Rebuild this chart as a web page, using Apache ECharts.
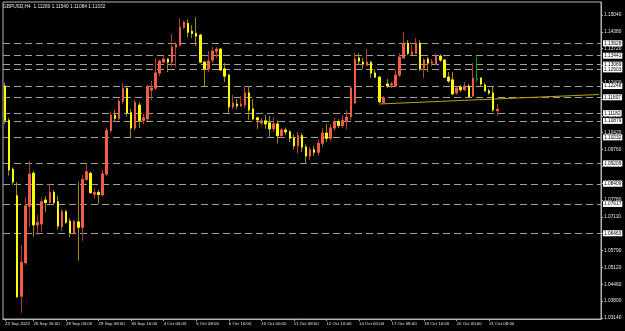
<!DOCTYPE html>
<html>
<head>
<meta charset="utf-8">
<title>GBPUSD,H4</title>
<script src="https://cdn.jsdelivr.net/npm/echarts@6/dist/echarts.min.js"></script>
<style>
  html, body { margin: 0; padding: 0; background: #000; }
  #main { width: 625px; height: 331px; }
</style>
</head>
<body>
<div id="main"></div>
<script>
// H4 bars from 23 Sep 2022 12:00
var openPrices = [
  1.1225, 1.1090, 1.0898, 1.0794, 1.0399, 1.0531, 1.0753, 1.0882, 1.0679, 1.0683,
  1.0777, 1.0768, 1.0807, 1.0770, 1.0672, 1.0731, 1.0694, 1.0647, 1.0691, 1.0670,
  1.0858, 1.0882, 1.0800, 1.0807, 1.0797, 1.0879, 1.1050, 1.1110, 1.1098, 1.1165,
  1.1215, 1.1120, 1.1060, 1.1150, 1.1090, 1.1096, 1.1209, 1.1217, 1.1276, 1.1319,
  1.1331, 1.1319, 1.1378, 1.1385, 1.1456, 1.1471, 1.1440, 1.1432, 1.1425, 1.1319,
  1.1292, 1.1327, 1.1362, 1.1370, 1.1292, 1.1268, 1.1143, 1.1154, 1.1147, 1.1151,
  1.1198, 1.1135, 1.1100, 1.1080, 1.1088, 1.1080, 1.1057, 1.1076, 1.1030, 1.1052,
  1.1045, 1.1020, 1.0990, 1.1030, 1.0985, 1.0950, 1.0975, 1.0965, 1.1000, 1.1040,
  1.1020, 1.1060, 1.1085, 1.1070, 1.1090, 1.1104, 1.1159, 1.1335, 1.1319, 1.1307,
  1.1319, 1.1276, 1.1260, 1.1159, 1.1233, 1.1229, 1.1225, 1.1268, 1.1335, 1.1393,
  1.1350, 1.1354, 1.1393, 1.1296, 1.1331, 1.1315, 1.1311, 1.1342, 1.1327, 1.1260,
  1.1249, 1.1198, 1.1221, 1.1210, 1.1225, 1.1186, 1.1253, 1.1256, 1.1229, 1.1206,
  1.1198, 1.1128
];
var highPrices = [
  1.1238, 1.1100, 1.0905, 1.0848, 1.0600, 1.0788, 1.0930, 1.0890, 1.0718, 1.0788,
  1.0793, 1.0839, 1.0816, 1.0794, 1.0741, 1.0738, 1.0705, 1.0698, 1.0849, 1.0875,
  1.0917, 1.0888, 1.0823, 1.0816, 1.0895, 1.1062, 1.1125, 1.1130, 1.1175, 1.1236,
  1.1225, 1.1135, 1.1170, 1.1160, 1.1115, 1.1229, 1.1245, 1.1335, 1.1328, 1.1342,
  1.1334, 1.1429, 1.1397, 1.1491, 1.1482, 1.1487, 1.1464, 1.1495, 1.1430, 1.1322,
  1.1362, 1.1378, 1.1378, 1.1374, 1.1315, 1.1272, 1.1190, 1.1174, 1.1186, 1.1225,
  1.1225, 1.1174, 1.1104, 1.1100, 1.1112, 1.1108, 1.1104, 1.1090, 1.1060, 1.1062,
  1.1050, 1.1035, 1.1045, 1.1040, 1.0995, 1.0985, 1.0990, 1.1015, 1.1060, 1.1075,
  1.1075, 1.1100, 1.1095, 1.1110, 1.1130, 1.1225, 1.1354, 1.1354, 1.1335, 1.1370,
  1.1322, 1.1292, 1.1262, 1.1186, 1.1253, 1.1241, 1.1288, 1.1354, 1.1436, 1.1405,
  1.1393, 1.1413, 1.1405, 1.1335, 1.1339, 1.1331, 1.1354, 1.1350, 1.1331, 1.1280,
  1.1280, 1.1221, 1.1229, 1.1241, 1.1233, 1.1315, 1.1339, 1.1260, 1.1237, 1.1214,
  1.1221, 1.1154
];
var lowPrices = [
  1.1075, 1.0873, 1.0836, 1.0392, 1.0334, 1.0522, 1.0671, 1.0632, 1.0640, 1.0653,
  1.0731, 1.0764, 1.0761, 1.0662, 1.0655, 1.0683, 1.0631, 1.0640, 1.0539, 1.0617,
  1.0853, 1.0801, 1.0784, 1.0761, 1.0793, 1.0872, 1.1040, 1.1085, 1.1090, 1.1155,
  1.1105, 1.1025, 1.1050, 1.1060, 1.1075, 1.1088, 1.1170, 1.1209, 1.1264, 1.1315,
  1.1280, 1.1299, 1.1299, 1.1380, 1.1450, 1.1417, 1.1413, 1.1382, 1.1315, 1.1225,
  1.1280, 1.1315, 1.1335, 1.1284, 1.1241, 1.1120, 1.1135, 1.1135, 1.1143, 1.1139,
  1.1092, 1.1092, 1.1057, 1.1072, 1.1057, 1.1026, 1.1045, 1.1000, 1.1020, 1.1032,
  1.1005, 1.0975, 1.0960, 1.0965, 1.0924, 1.0935, 1.0950, 1.0950, 1.0985, 1.1005,
  1.1010, 1.1050, 1.1060, 1.1060, 1.1055, 1.1090, 1.1155, 1.1307, 1.1292, 1.1305,
  1.1256, 1.1256, 1.1159, 1.1155, 1.1217, 1.1217, 1.1221, 1.1260, 1.1335, 1.1346,
  1.1346, 1.1350, 1.1284, 1.1256, 1.1280, 1.1303, 1.1307, 1.1319, 1.1256, 1.1237,
  1.1190, 1.1190, 1.1202, 1.1206, 1.1178, 1.1182, 1.1241, 1.1225, 1.1202, 1.1190,
  1.1123, 1.11084
];
var closePrices = [
  1.1090, 1.0895, 1.0848, 1.0397, 1.0532, 1.0754, 1.0879, 1.0679, 1.0688, 1.0770,
  1.0767, 1.0807, 1.0768, 1.0675, 1.0731, 1.0690, 1.0649, 1.0692, 1.0670, 1.0858,
  1.0888, 1.0806, 1.0806, 1.0799, 1.0879, 1.1050, 1.1110, 1.1098, 1.1165, 1.1215,
  1.1120, 1.1060, 1.1160, 1.1090, 1.1100, 1.1221, 1.1217, 1.1276, 1.1323, 1.1331,
  1.1319, 1.1378, 1.1389, 1.1456, 1.1475, 1.1436, 1.1432, 1.1421, 1.1319, 1.1292,
  1.1323, 1.1362, 1.1370, 1.1288, 1.1264, 1.1143, 1.1158, 1.1147, 1.1154, 1.1198,
  1.1131, 1.1096, 1.1092, 1.1088, 1.1076, 1.1057, 1.1076, 1.1030, 1.1052, 1.1045,
  1.1020, 1.0990, 1.1030, 1.0985, 1.0950, 1.0975, 1.0965, 1.1000, 1.1040, 1.1020,
  1.1060, 1.1085, 1.1070, 1.1090, 1.1103, 1.1217, 1.1331, 1.1323, 1.1311, 1.1319,
  1.1276, 1.1260, 1.1163, 1.1178, 1.1225, 1.1233, 1.1268, 1.1339, 1.1393, 1.1354,
  1.1358, 1.1393, 1.1292, 1.1327, 1.1315, 1.1319, 1.1342, 1.1327, 1.1260, 1.1245,
  1.1194, 1.1217, 1.1210, 1.1225, 1.1182, 1.1256, 1.1253, 1.1233, 1.1206, 1.1198,
  1.1131, 1.11332
];
var dojiIndex = 116;

// horizontal levels with price boxes on the right
var levels = [1.13928, 1.13441, 1.13089, 1.12903, 1.12248, 1.11807, 1.11182,
  1.10879, 1.10232, 1.09209, 1.08409, 1.07617, 1.06463];
// price scale labels
var priceTicks = [1.15040, 1.14380, 1.13720, 1.13060, 1.12400, 1.11740, 1.11080,
  1.10420, 1.09760, 1.09100, 1.08440, 1.07780, 1.07110, 1.06450, 1.05790, 1.05120,
  1.04460, 1.03800, 1.03140];
// trend line ends: [bar index, price]
var trendStart = [92, 1.11543];
var trendEnd = [146, 1.11916];

var barSlots = 147;
var months = ['Jan','Feb','Mar','Apr','May','Jun','Jul','Aug','Sep','Oct','Nov','Dec'];
function pad(n) { return n < 10 ? '0' + n : '' + n; }

// bar times, 4h steps, no weekends
var times = [];
var t = Date.UTC(2022, 8, 23, 12);
while (times.length < barSlots) {
  var d = new Date(t);
  var wd = d.getUTCDay();
  if (wd !== 0 && wd !== 6) {
    times.push(d.getUTCDate() + ' ' + months[d.getUTCMonth()] + ' ' + pad(d.getUTCHours()) + ':00');
  }
  t += 4 * 3600 * 1000;
}

var upColor = '#f25c45', downColor = '#ffff00';
var upWick = '#a8402e', downWick = '#9a8c00', dojiColor = '#00a000';

var wickData = [], bodyData = [];
for (var i = 0; i < openPrices.length; i++) {
  var o = openPrices[i], c = closePrices[i];
  var w = [o, c, lowPrices[i], highPrices[i]];
  var b = [o, c, Math.min(o, c), Math.max(o, c)];
  if (i === dojiIndex) {
    wickData.push({ value: w, itemStyle: { color: dojiColor, color0: dojiColor, borderColor: dojiColor, borderColor0: dojiColor } });
    bodyData.push({ value: b, itemStyle: { color: dojiColor, color0: dojiColor, borderColor: dojiColor, borderColor0: dojiColor } });
  } else {
    wickData.push(w);
    bodyData.push(b);
  }
}

var levelLines = levels.map(function (v) {
  return { yAxis: v };
});

function showTimeLabel(i) {
  return i === 0 || (i >= 7 && i <= 119 && (i - 7) % 8 === 0);
}

var myChart = echarts.init(document.getElementById('main'));
var option = {
  animation: false,
  backgroundColor: '#000',
  textStyle: { fontFamily: 'Liberation Sans' },
  title: {
    text: 'GBPUSD,H4  1.11280 1.11540 1.11084 1.11332',
    left: 3,
    top: 4,
    padding: 0,
    textStyle: { color: '#e8e8e8', fontSize: 4.8, fontWeight: 'normal', fontFamily: 'Liberation Sans' }
  },
  grid: {
    left: 3,
    right: 24,
    top: 2,
    bottom: 12,
    show: true,
    backgroundColor: '#000',
    borderColor: '#b4b4b4',
    borderWidth: 1
  },
  xAxis: {
    type: 'category',
    data: times,
    boundaryGap: true,
    axisLine: { lineStyle: { color: '#b4b4b4' } },
    axisTick: {
      show: true,
      length: 2,
      alignWithLabel: true,
      interval: showTimeLabel,
      lineStyle: { color: '#b4b4b4' }
    },
    axisLabel: {
      color: '#e0e0e0',
      fontSize: 4.4,
      fontFamily: 'Liberation Sans',
      align: 'left',
      margin: 3,
      interval: showTimeLabel,
      formatter: function (v, i) { return i === 0 ? '23 Sep 2022' : v; }
    },
    splitLine: { show: false }
  },
  yAxis: {
    type: 'value',
    position: 'right',
    min: 1.03095,
    max: 1.15551,
    axisLine: { show: true, lineStyle: { color: '#b4b4b4' } },
    axisTick: { show: true, length: 2, customValues: priceTicks, lineStyle: { color: '#b4b4b4' } },
    axisLabel: {
      color: '#e8e8e8',
      fontSize: 4.8,
      fontFamily: 'Liberation Sans',
      margin: 3,
      customValues: priceTicks,
      formatter: function (v) { return v.toFixed(5); }
    },
    splitLine: { show: false }
  },
  series: [
    {
      name: 'wicks',
      type: 'candlestick',
      data: wickData,
      barWidth: 2,
      itemStyle: {
        color: upWick, color0: downWick,
        borderColor: upWick, borderColor0: downWick,
        borderWidth: 1
      },
      markLine: {
        silent: true,
        symbol: 'none',
        precision: 5,
        z: 1,
        lineStyle: { color: '#a0a0a0', type: [7, 4], width: 1 },
        label: {
          show: true,
          position: 'end',
          distance: 2,
          backgroundColor: '#ffffff',
          color: '#000',
          fontSize: 4.8,
          fontFamily: 'Liberation Sans',
          padding: [1, 1, 0, 1],
          formatter: function (p) { return Number(p.value).toFixed(5); }
        },
        data: levelLines.concat([[
          { coord: [times[trendStart[0]], trendStart[1]], lineStyle: { color: '#b8a400', type: 'solid', width: 1 }, label: { show: false } },
          { coord: [times[trendEnd[0]], trendEnd[1]] }
        ]])
      }
    },
    {
      name: 'bodies',
      type: 'candlestick',
      data: bodyData,
      barWidth: 2,
      z: 3,
      itemStyle: {
        color: upColor, color0: downColor,
        borderColor: upColor, borderColor0: downColor,
        borderWidth: 1
      }
    }
  ]
};
myChart.setOption(option);
</script>
</body>
</html>
